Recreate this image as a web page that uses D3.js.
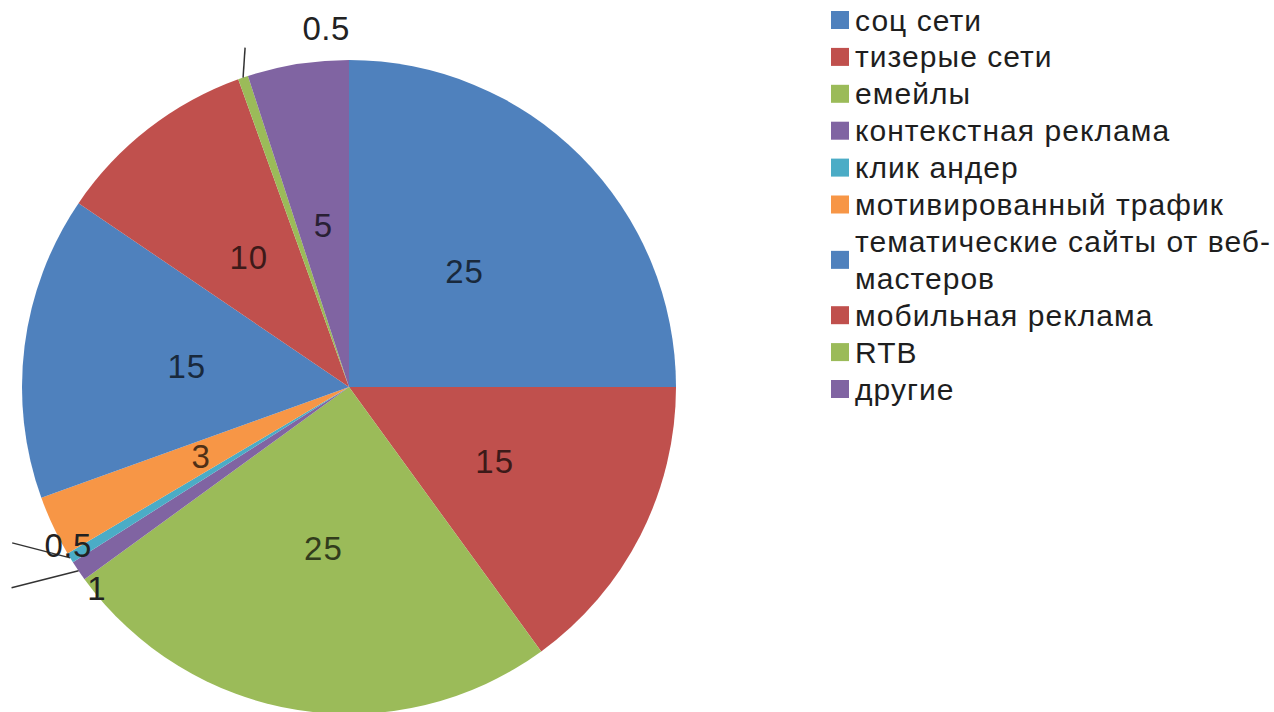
<!DOCTYPE html>
<html><head><meta charset="utf-8">
<script src="https://cdn.jsdelivr.net/npm/d3@7"></script>
<style>body{margin:0;background:#fff}svg{display:block}</style>
</head><body>
<svg id="c" width="1274" height="712"></svg>
<script>
const categories = ["соц сети","тизерые сети","емейлы","контекстная реклама","клик андер","мотивированный трафик","тематические сайты от веб-мастеров","мобильная реклама","RTB","другие"];
const legendLines = [["соц сети"],["тизерые сети"],["емейлы"],["контекстная реклама"],["клик андер"],["мотивированный трафик"],["тематические сайты от веб-","мастеров"],["мобильная реклама"],["RTB"],["другие"]];
const values = [25,15,25,1,0.5,3,15,10,0.5,5];
const labels = ["25","15","25","1","0.5","3","15","10","0.5","5"];
const colors = ["#4F81BD","#C0504D","#9BBB59","#8064A2","#4BACC6","#F79646","#4F81BD","#C0504D","#9BBB59","#8064A2"];

const svg = d3.select("#c");
const cx = 349, cy = 387, R = 327;
const g = svg.append("g").attr("transform",`translate(${cx},${cy})`);
const pie = d3.pie().sort(null).value(d=>d)(values);
const arc = d3.arc().innerRadius(0).outerRadius(R);
const labelArc = d3.arc().innerRadius(R*0.5).outerRadius(R*0.5);
const edgeArc = d3.arc().innerRadius(R).outerRadius(R);

g.selectAll("path.s").data(pie).join("path").attr("class","s")
  .attr("d",arc).attr("fill",(d,i)=>colors[i]);

const font = "'Liberation Sans', Arial, sans-serif";
const small = {3:{lx:-67,ly:17,tx:18,ty:18},4:{lx:-58,ly:-15,tx:-2,ty:-12},8:{lx:2,ly:-30,tx:83,ty:-49}};
pie.forEach((d,i)=>{
  const col = d3.color(colors[i]).darker(3.2);
  if(small[i]){
    const o = small[i];
    const [ex,ey] = edgeArc.centroid(d);
    g.append("line").attr("x1",ex).attr("y1",ey).attr("x2",ex+o.lx).attr("y2",ey+o.ly)
      .attr("stroke","#333").attr("stroke-width",1.5);
    g.append("text").attr("x",ex+o.tx).attr("y",ey+o.ty).attr("text-anchor","middle")
      .attr("dominant-baseline","central").attr("font-family",font).attr("font-size",33)
      .attr("letter-spacing",0.5).attr("fill","#222").text(labels[i]);
  } else {
    const [x,y] = labelArc.centroid(d);
    g.append("text").attr("x",x).attr("y",y).attr("text-anchor","middle")
      .attr("dominant-baseline","central").attr("font-family",font).attr("font-size",33)
      .attr("letter-spacing",1).attr("fill",col).text(labels[i]);
  }
});

// legend
const lx = 831, ly0 = 20, lh = 36.9;
let line = 0;
const lg = svg.append("g");
legendLines.forEach((ls,i)=>{
  const yc = ly0 + lh*(line + (ls.length-1)/2);
  lg.append("rect").attr("x",lx).attr("y",yc-9).attr("width",18).attr("height",18)
    .attr("fill",colors[i]);
  ls.forEach((t,k)=>{
    lg.append("text").attr("x",855).attr("y",ly0+lh*(line+k)).attr("dominant-baseline","central")
      .attr("font-family",font).attr("font-size",30).attr("letter-spacing",1.05)
      .attr("fill","#1e1e1e").text(t);
  });
  line += ls.length;
});
</script>
</body></html>
